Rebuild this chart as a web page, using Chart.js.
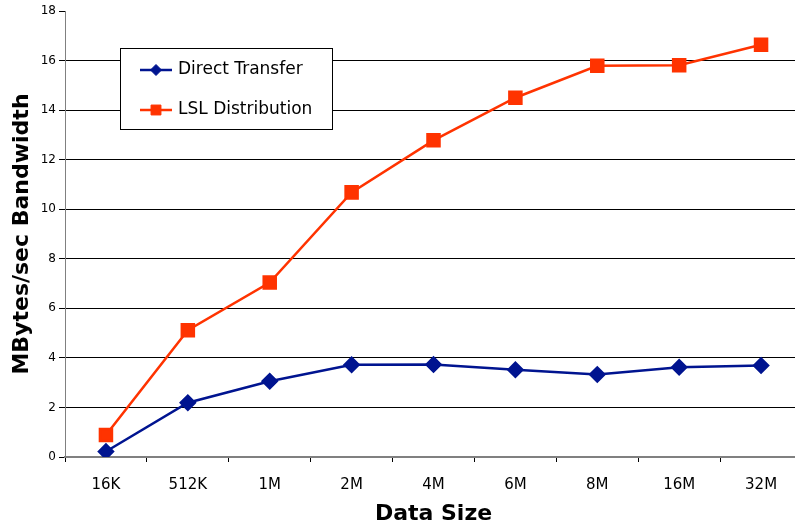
<!DOCTYPE html>
<html>
<head>
<meta charset="utf-8">
<script src="https://cdn.jsdelivr.net/npm/chart.js@4"></script>
<style>
  html, body { margin: 0; padding: 0; background: #fff; overflow: hidden; }
  canvas { display: block; }
</style>
</head>
<body>
<canvas id="c" width="802" height="529"></canvas>
<script>
// Data size categories and measured bandwidth (MBytes/sec)
const categories = ['16K', '512K', '1M', '2M', '4M', '6M', '8M', '16M', '32M'];
const directTransfer = [0.22, 2.19, 3.06, 3.72, 3.73, 3.52, 3.33, 3.62, 3.69];
const lslDistribution = [0.89, 5.12, 7.04, 10.68, 12.78, 14.5, 15.79, 15.81, 16.64];
const yTicks = [0, 2, 4, 6, 8, 10, 12, 14, 16, 18];

const FONT = "'DejaVu Sans', Verdana, sans-serif";
const BLUE = '#001490';
const RED = '#FF3300';

// Boxed legend drawn inside the plot area
const boxLegend = {
  id: 'boxLegend',
  afterDraw(chart) {
    const ctx = chart.ctx;
    const x = 120.5, y = 48.5, w = 212, h = 81;
    ctx.save();
    ctx.fillStyle = '#fff';
    ctx.fillRect(x, y, w, h);
    ctx.strokeStyle = '#000';
    ctx.lineWidth = 1;
    ctx.strokeRect(x, y, w, h);
    const rows = [70, 110];
    const markerRadius = [5.5, 7];
    chart.data.datasets.forEach((ds, i) => {
      const ry = rows[i];
      ctx.strokeStyle = ds.borderColor;
      ctx.lineWidth = ds.borderWidth;
      ctx.beginPath();
      ctx.moveTo(140, ry);
      ctx.lineTo(172, ry);
      ctx.stroke();
      ctx.fillStyle = ds.pointBackgroundColor;
      ctx.strokeStyle = ds.pointBorderColor;
      ctx.lineWidth = 1;
      Chart.helpers.drawPoint(ctx, {
        pointStyle: ds.pointStyle,
        radius: markerRadius[i],
        borderWidth: 1,
        rotation: 0
      }, 156, ry);
      ctx.fillStyle = '#000';
      ctx.font = '17px ' + FONT;
      ctx.textAlign = 'left';
      ctx.textBaseline = 'middle';
      ctx.fillText(ds.label, 178, ry);
    });
    ctx.restore();
  }
};

new Chart(document.getElementById('c'), {
  type: 'line',
  data: {
    labels: categories,
    datasets: [
      {
        label: 'Direct Transfer',
        data: directTransfer,
        borderColor: BLUE,
        backgroundColor: BLUE,
        pointBackgroundColor: BLUE,
        pointBorderColor: BLUE,
        borderWidth: 2.5,
        pointStyle: 'rectRot',
        pointRadius: 7,
        pointHoverRadius: 7,
        tension: 0
      },
      {
        label: 'LSL Distribution',
        data: lslDistribution,
        borderColor: RED,
        backgroundColor: RED,
        pointBackgroundColor: RED,
        pointBorderColor: RED,
        borderWidth: 2.5,
        pointStyle: 'rect',
        pointRadius: 8.5,
        pointHoverRadius: 8.5,
        tension: 0
      }
    ]
  },
  options: {
    responsive: false,
    animation: false,
    events: [],
    layout: { autoPadding: false, padding: { top: 11, right: 0, bottom: 0, left: 0 } },
    plugins: {
      legend: { display: false },
      tooltip: { enabled: false }
    },
    scales: {
      x: {
        type: 'category',
        offset: true,
        grid: {
          offset: true,
          drawOnChartArea: false,
          drawTicks: true,
          tickLength: 5,
          tickColor: '#000'
        },
        border: { display: true, color: '#808080', width: 2 },
        ticks: {
          color: '#000',
          font: { family: FONT, size: 15 },
          padding: 14,
          maxRotation: 0
        },
        title: {
          display: true,
          text: 'Data Size',
          color: '#000',
          font: { family: FONT, size: 22, weight: 'bold' },
          padding: { top: 8, bottom: 2 }
        },
        afterFit(scale) { scale.height = 72; }
      },
      y: {
        min: 0,
        max: 18,
        afterBuildTicks(scale) { scale.ticks = yTicks.map(v => ({ value: v })); },
        grid: {
          color: ctx => (ctx.tick && (ctx.tick.value === 0 || ctx.tick.value === 18)) ? 'rgba(0,0,0,0)' : '#000',
          tickColor: '#000',
          lineWidth: 1,
          drawTicks: true,
          tickLength: 6
        },
        border: { display: true, color: '#808080', width: 1 },
        ticks: {
          color: '#000',
          font: { family: FONT, size: 12 },
          padding: 3
        },
        title: {
          display: true,
          text: 'MBytes/sec Bandwidth',
          color: '#000',
          font: { family: FONT, size: 22, weight: 'bold' },
          padding: { top: 9, bottom: 4 }
        },
        afterFit(scale) { scale.width = 65; }
      }
    }
  },
  plugins: [boxLegend]
});
</script>
</body>
</html>
